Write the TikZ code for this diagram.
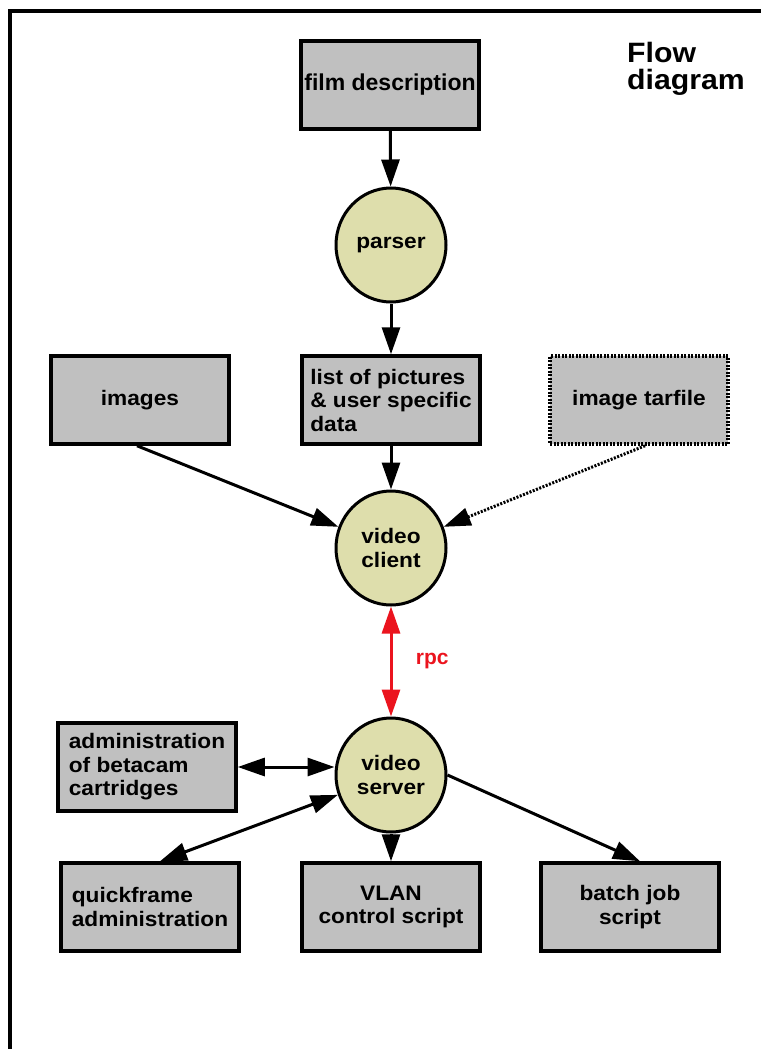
\documentclass[tikz,border=0pt]{standalone}
\usepackage{fontspec}
\setmainfont{Liberation Sans}
\newfontfamily\widesans[FakeStretch=1.08]{Liberation Sans}
\usetikzlibrary{arrows.meta,shapes.geometric}
\definecolor{boxgray}{RGB}{192,192,192}
\definecolor{bubble}{RGB}{222,222,172}
\definecolor{rpcred}{RGB}{235,20,30}
\tikzset{
  box/.style={draw=black, line width=3.5pt, fill=boxgray, minimum width=178pt, minimum height=88pt, inner sep=2pt, font=\widesans\bfseries\fontsize{21}{23.5}\selectfont},
  bub/.style={draw=black, line width=3pt, fill=bubble, ellipse, minimum width=110pt, minimum height=114pt, inner sep=0pt, font=\widesans\bfseries\fontsize{21}{23.5}\selectfont, align=center},
  arr/.style={line width=3pt, -{Triangle[length=27pt,width=18pt]}},
  darr/.style={line width=3pt, {Triangle[length=27pt,width=18pt]}-{Triangle[length=27pt,width=18pt]}},
  dots/.style={dash pattern=on 2pt off 1.5pt},
}
\begin{document}
\begin{tikzpicture}[x=1pt,y=-1pt]
\useasboundingbox (0,0) rectangle (761,1049);
\draw[line width=4pt] (10,1049) -- (10,11) -- (761,11);
\node[font=\widesans\bfseries\fontsize{28}{27}\selectfont, align=left, anchor=north west, inner sep=0pt] (title) at (627,42) {Flow\\diagram};

\node[box, font=\bfseries\fontsize{23}{24}\selectfont] (film) at (390,85) {film description};
\node[bub] (parser) at (391,245) {parser};
\node[box, align=left] (list) at (391,400) {list of pictures\\\& user specific\\data};
\node[box] (images) at (140,400) {images};
\node[box, dots, draw=black] (tar) at (639,400) {image tarfile};
\node[bub] (client) at (391,548) {video\\client};
\node[bub] (server) at (391,775) {video\\server};
\node[box, align=left] (beta) at (147,767) {administration\\of betacam\\cartridges};
\node[box, align=left] (quick) at (150,907) {quickframe\\administration};
\node[box, align=center] (vlan) at (391,907) {VLAN\\control script};
\node[box, align=center] (batch) at (630,907) {batch job\\script};

\draw[arr] (film) -- (parser);
\draw[arr] (parser) -- (list);
\draw[arr] (list) -- (client);
\draw[arr] ([xshift=-3pt]images.south) -- (client);
\draw[arr, dots] ([xshift=6pt]tar.south) -- (client);
\draw[darr, rpcred] (client) -- node[right=20pt, font=\bfseries\fontsize{21}{22}\selectfont, text=rpcred] (rpc) {rpc} (server);
\draw[darr] (beta.east) -- (beta.east -| server.west);
\draw[darr] ([xshift=10pt]quick.north) -- (server);
\draw[arr] (server) -- (vlan);
\draw[arr] (server.east) -- ([xshift=10pt]batch.north);
\end{tikzpicture}
\end{document}
